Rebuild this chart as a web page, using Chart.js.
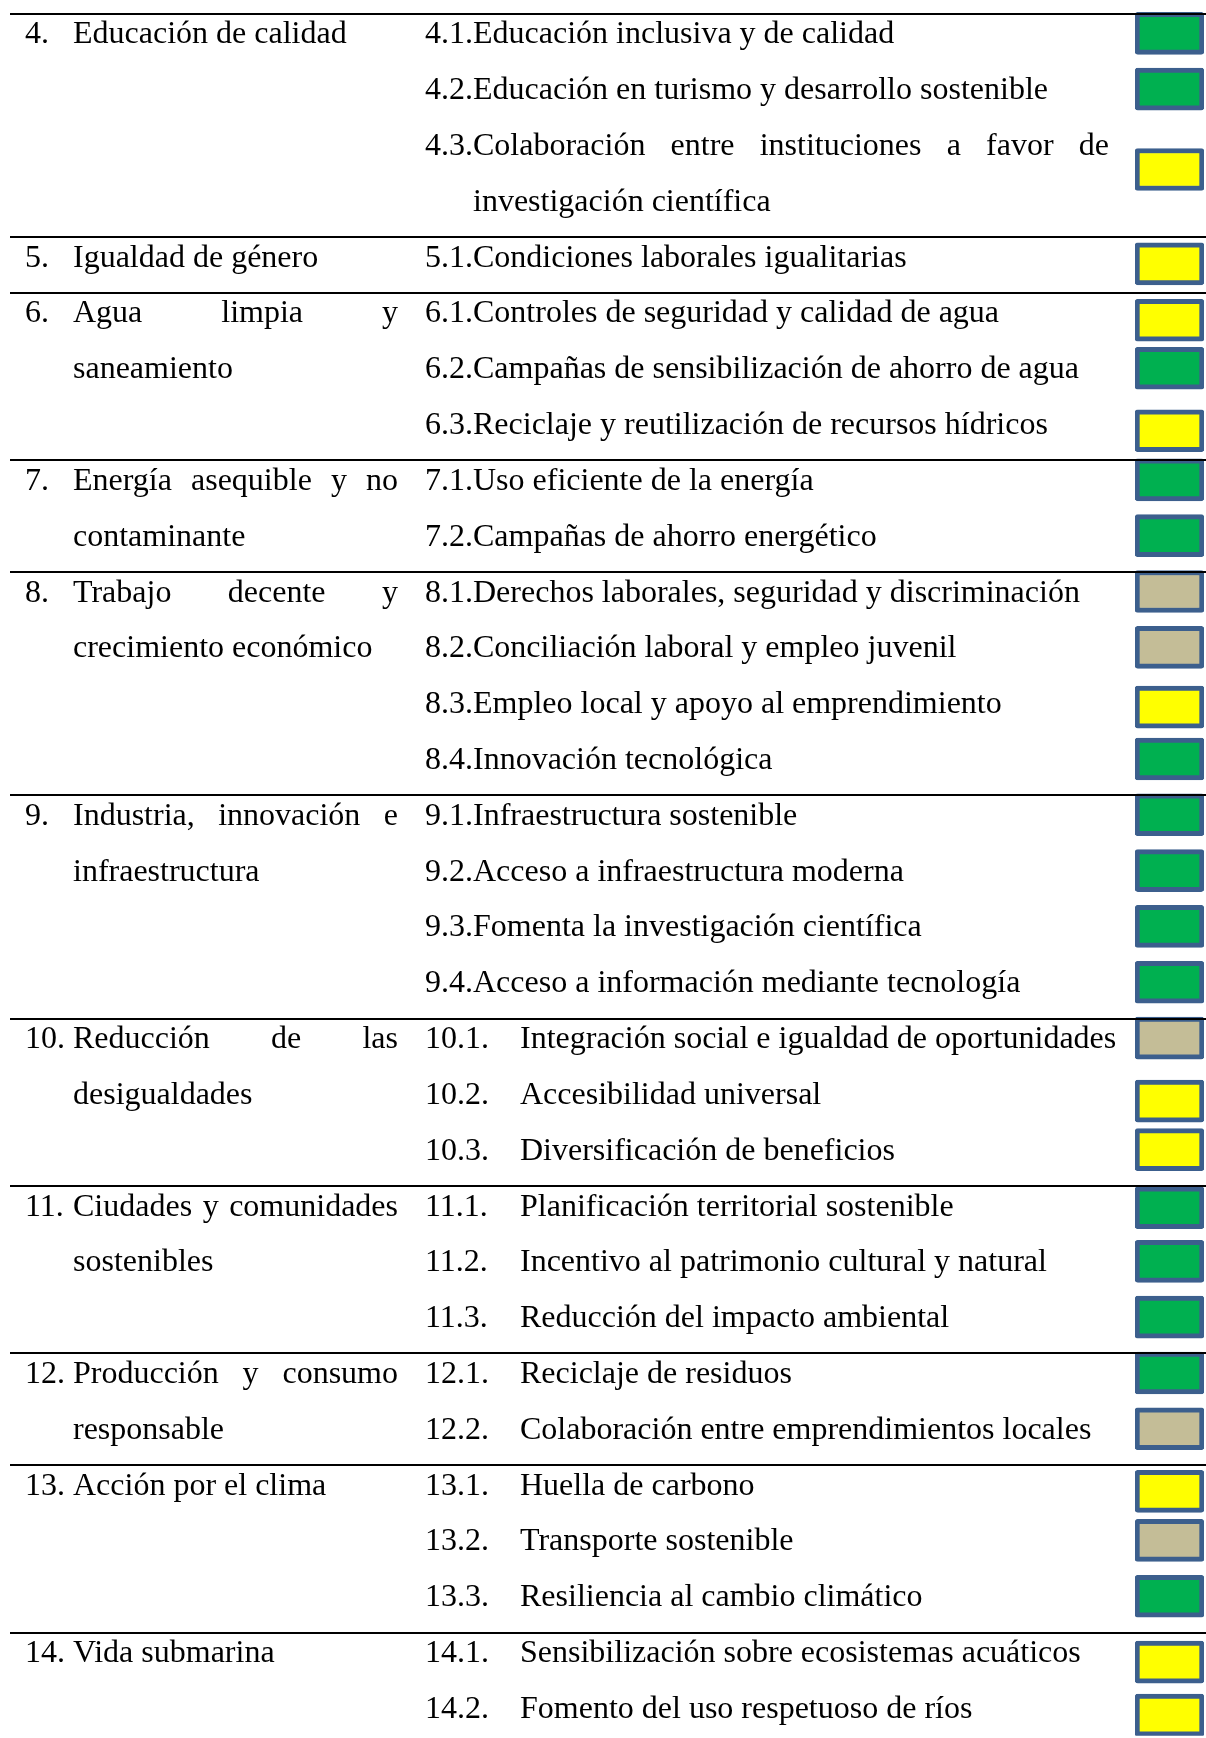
<!DOCTYPE html>
<html>
<head>
<meta charset="utf-8">
<script src="https://cdn.jsdelivr.net/npm/chart.js@4/dist/chart.umd.min.js"></script>
<style>
  html, body { margin: 0; padding: 0; background: #ffffff; overflow: hidden; }
  #c { display: block; }
</style>
</head>
<body>
<canvas id="c" width="1206" height="1738" style="width:1206px;height:1738px"></canvas>
<script>
// ---------- DATA ----------
const goalNums = ["4.", "5.", "6.", "7.", "8.", "9.", "10.", "11.", "12.", "13.", "14."];
const goalLines = [
  ["Educación de calidad"],
  ["Igualdad de género"],
  ["Agua limpia y", "saneamiento"],
  ["Energía asequible y no", "contaminante"],
  ["Trabajo decente y", "crecimiento económico"],
  ["Industria, innovación e", "infraestructura"],
  ["Reducción de las", "desigualdades"],
  ["Ciudades y comunidades", "sostenibles"],
  ["Producción y consumo", "responsable"],
  ["Acción por el clima"],
  ["Vida submarina"]
];
const goalRowCount = [4, 1, 3, 2, 4, 4, 3, 3, 2, 3, 2];

const metaCodes = ["4.1.", "4.2.", "4.3.", "5.1.", "6.1.", "6.2.", "6.3.", "7.1.", "7.2.",
  "8.1.", "8.2.", "8.3.", "8.4.", "9.1.", "9.2.", "9.3.", "9.4.",
  "10.1.", "10.2.", "10.3.", "11.1.", "11.2.", "11.3.", "12.1.", "12.2.",
  "13.1.", "13.2.", "13.3.", "14.1.", "14.2."];
const metaTexts = [
  ["Educación inclusiva y de calidad"],
  ["Educación en turismo y desarrollo sostenible"],
  ["Colaboración entre instituciones a favor de", "investigación científica"],
  ["Condiciones laborales igualitarias"],
  ["Controles de seguridad y calidad de agua"],
  ["Campañas de sensibilización de ahorro de agua"],
  ["Reciclaje y reutilización de recursos hídricos"],
  ["Uso eficiente de la energía"],
  ["Campañas de ahorro energético"],
  ["Derechos laborales, seguridad y discriminación"],
  ["Conciliación laboral y empleo juvenil"],
  ["Empleo local y apoyo al emprendimiento"],
  ["Innovación tecnológica"],
  ["Infraestructura sostenible"],
  ["Acceso a infraestructura moderna"],
  ["Fomenta la investigación científica"],
  ["Acceso a información mediante tecnología"],
  ["Integración social e igualdad de oportunidades"],
  ["Accesibilidad universal"],
  ["Diversificación de beneficios"],
  ["Planificación territorial sostenible"],
  ["Incentivo al patrimonio cultural y natural"],
  ["Reducción del impacto ambiental"],
  ["Reciclaje de residuos"],
  ["Colaboración entre emprendimientos locales"],
  ["Huella de carbono"],
  ["Transporte sostenible"],
  ["Resiliencia al cambio climático"],
  ["Sensibilización sobre ecosistemas acuáticos"],
  ["Fomento del uso respetuoso de ríos"]
];
const metaStatus = ["verde", "verde", "amarillo", "amarillo", "amarillo", "verde", "amarillo", "verde", "verde",
  "beige", "beige", "amarillo", "verde", "verde", "verde", "verde", "verde",
  "beige", "amarillo", "amarillo", "verde", "verde", "verde", "verde", "beige",
  "amarillo", "beige", "verde", "amarillo", "amarillo"];
// vertical position of each status box, in table-row units
const boxPos = [0, 1, 2.44, 4.13, 5.14, 6, 7.12, 8, 9,
  10, 11, 12.07, 13, 14, 15, 16, 17,
  18, 19.13, 20, 21.04, 22, 23, 24, 25,
  26.12, 27, 28, 29.18, 30.13];

// ---------- STYLE ----------
const statusColors = { verde: "#00B050", amarillo: "#FFFF00", beige: "#C4BD97" };
const boxBorder = "#3C5F8D";
const FONT = '32px "Liberation Serif", "Times New Roman", serif';
const COL1_NUM_X = 25, COL1_TEXT_X = 73, COL1_RIGHT = 398;
const COL2_X = 425, COL2_TAB_X = 520, COL2_RIGHT = 1109;
const LINE_LEFT = 10, LINE_RIGHT = 1206;

function drawJustified(ctx, text, x0, x1, y) {
  const words = text.split(" ");
  if (words.length < 2) { ctx.fillText(text, x0, y); return; }
  let total = 0;
  words.forEach(w => total += ctx.measureText(w).width);
  const gap = (x1 - x0 - total) / (words.length - 1);
  let x = x0;
  words.forEach(w => { ctx.fillText(w, x, y); x += ctx.measureText(w).width + gap; });
}

const tablePlugin = {
  id: "tabla",
  afterDatasetsDraw(chart) {
    const ctx = chart.ctx;
    const ys = chart.scales.y;
    const base = r => ys.getPixelForValue(r) + 10;
    ctx.save();
    ctx.fillStyle = "#000000";
    ctx.font = FONT;
    ctx.textBaseline = "alphabetic";
    ctx.textAlign = "left";

    // separator lines and goal column
    ctx.strokeStyle = "#000000";
    ctx.lineWidth = 2;
    let row = 0;
    goalNums.forEach((num, g) => {
      const ly = Math.round(ys.getPixelForValue(row - 0.35));
      ctx.beginPath(); ctx.moveTo(LINE_LEFT, ly); ctx.lineTo(LINE_RIGHT, ly); ctx.stroke();
      ctx.fillText(num, COL1_NUM_X, base(row));
      const lines = goalLines[g];
      lines.forEach((ln, k) => {
        if (lines.length > 1 && k < lines.length - 1) drawJustified(ctx, ln, COL1_TEXT_X, COL1_RIGHT, base(row + k));
        else ctx.fillText(ln, COL1_TEXT_X, base(row + k));
      });
      row += goalRowCount[g];
    });

    // target column
    let r = 0;
    metaCodes.forEach((code, i) => {
      const lines = metaTexts[i];
      const twoDigit = code.length > 4;
      if (twoDigit) {
        ctx.fillText(code, COL2_X, base(r));
        ctx.fillText(lines[0], COL2_TAB_X, base(r));
      } else {
        const codeW = ctx.measureText(code).width;
        if (lines.length > 1) {
          drawJustified(ctx, code + lines[0], COL2_X, COL2_RIGHT, base(r));
          for (let k = 1; k < lines.length; k++) ctx.fillText(lines[k], COL2_X + codeW, base(r + k));
        } else {
          ctx.fillText(code + lines[0], COL2_X, base(r));
        }
      }
      r += lines.length;
    });
    ctx.restore();
  }
};

new Chart(document.getElementById("c"), {
  type: "bar",
  data: {
    datasets: [{
      data: boxPos.map(p => ({ x: [0, 1], y: p })),
      backgroundColor: metaStatus.map(s => statusColors[s]),
      borderColor: boxBorder,
      borderWidth: 5,
      borderRadius: 3,
      borderSkipped: false,
      barThickness: 42
    }]
  },
  options: {
    indexAxis: "y",
    responsive: false,
    animation: false,
    layout: { padding: { left: 1135, right: 2, top: 5.4, bottom: 2.2 } },
    scales: {
      x: { type: "linear", min: 0, max: 1, display: false, offset: false },
      y: { type: "linear", min: -0.5, max: 30.5, reverse: true, display: false, offset: false, grid: { offset: false } }
    },
    plugins: { legend: { display: false }, tooltip: { enabled: false } }
  },
  plugins: [tablePlugin]
});
</script>
</body>
</html>
